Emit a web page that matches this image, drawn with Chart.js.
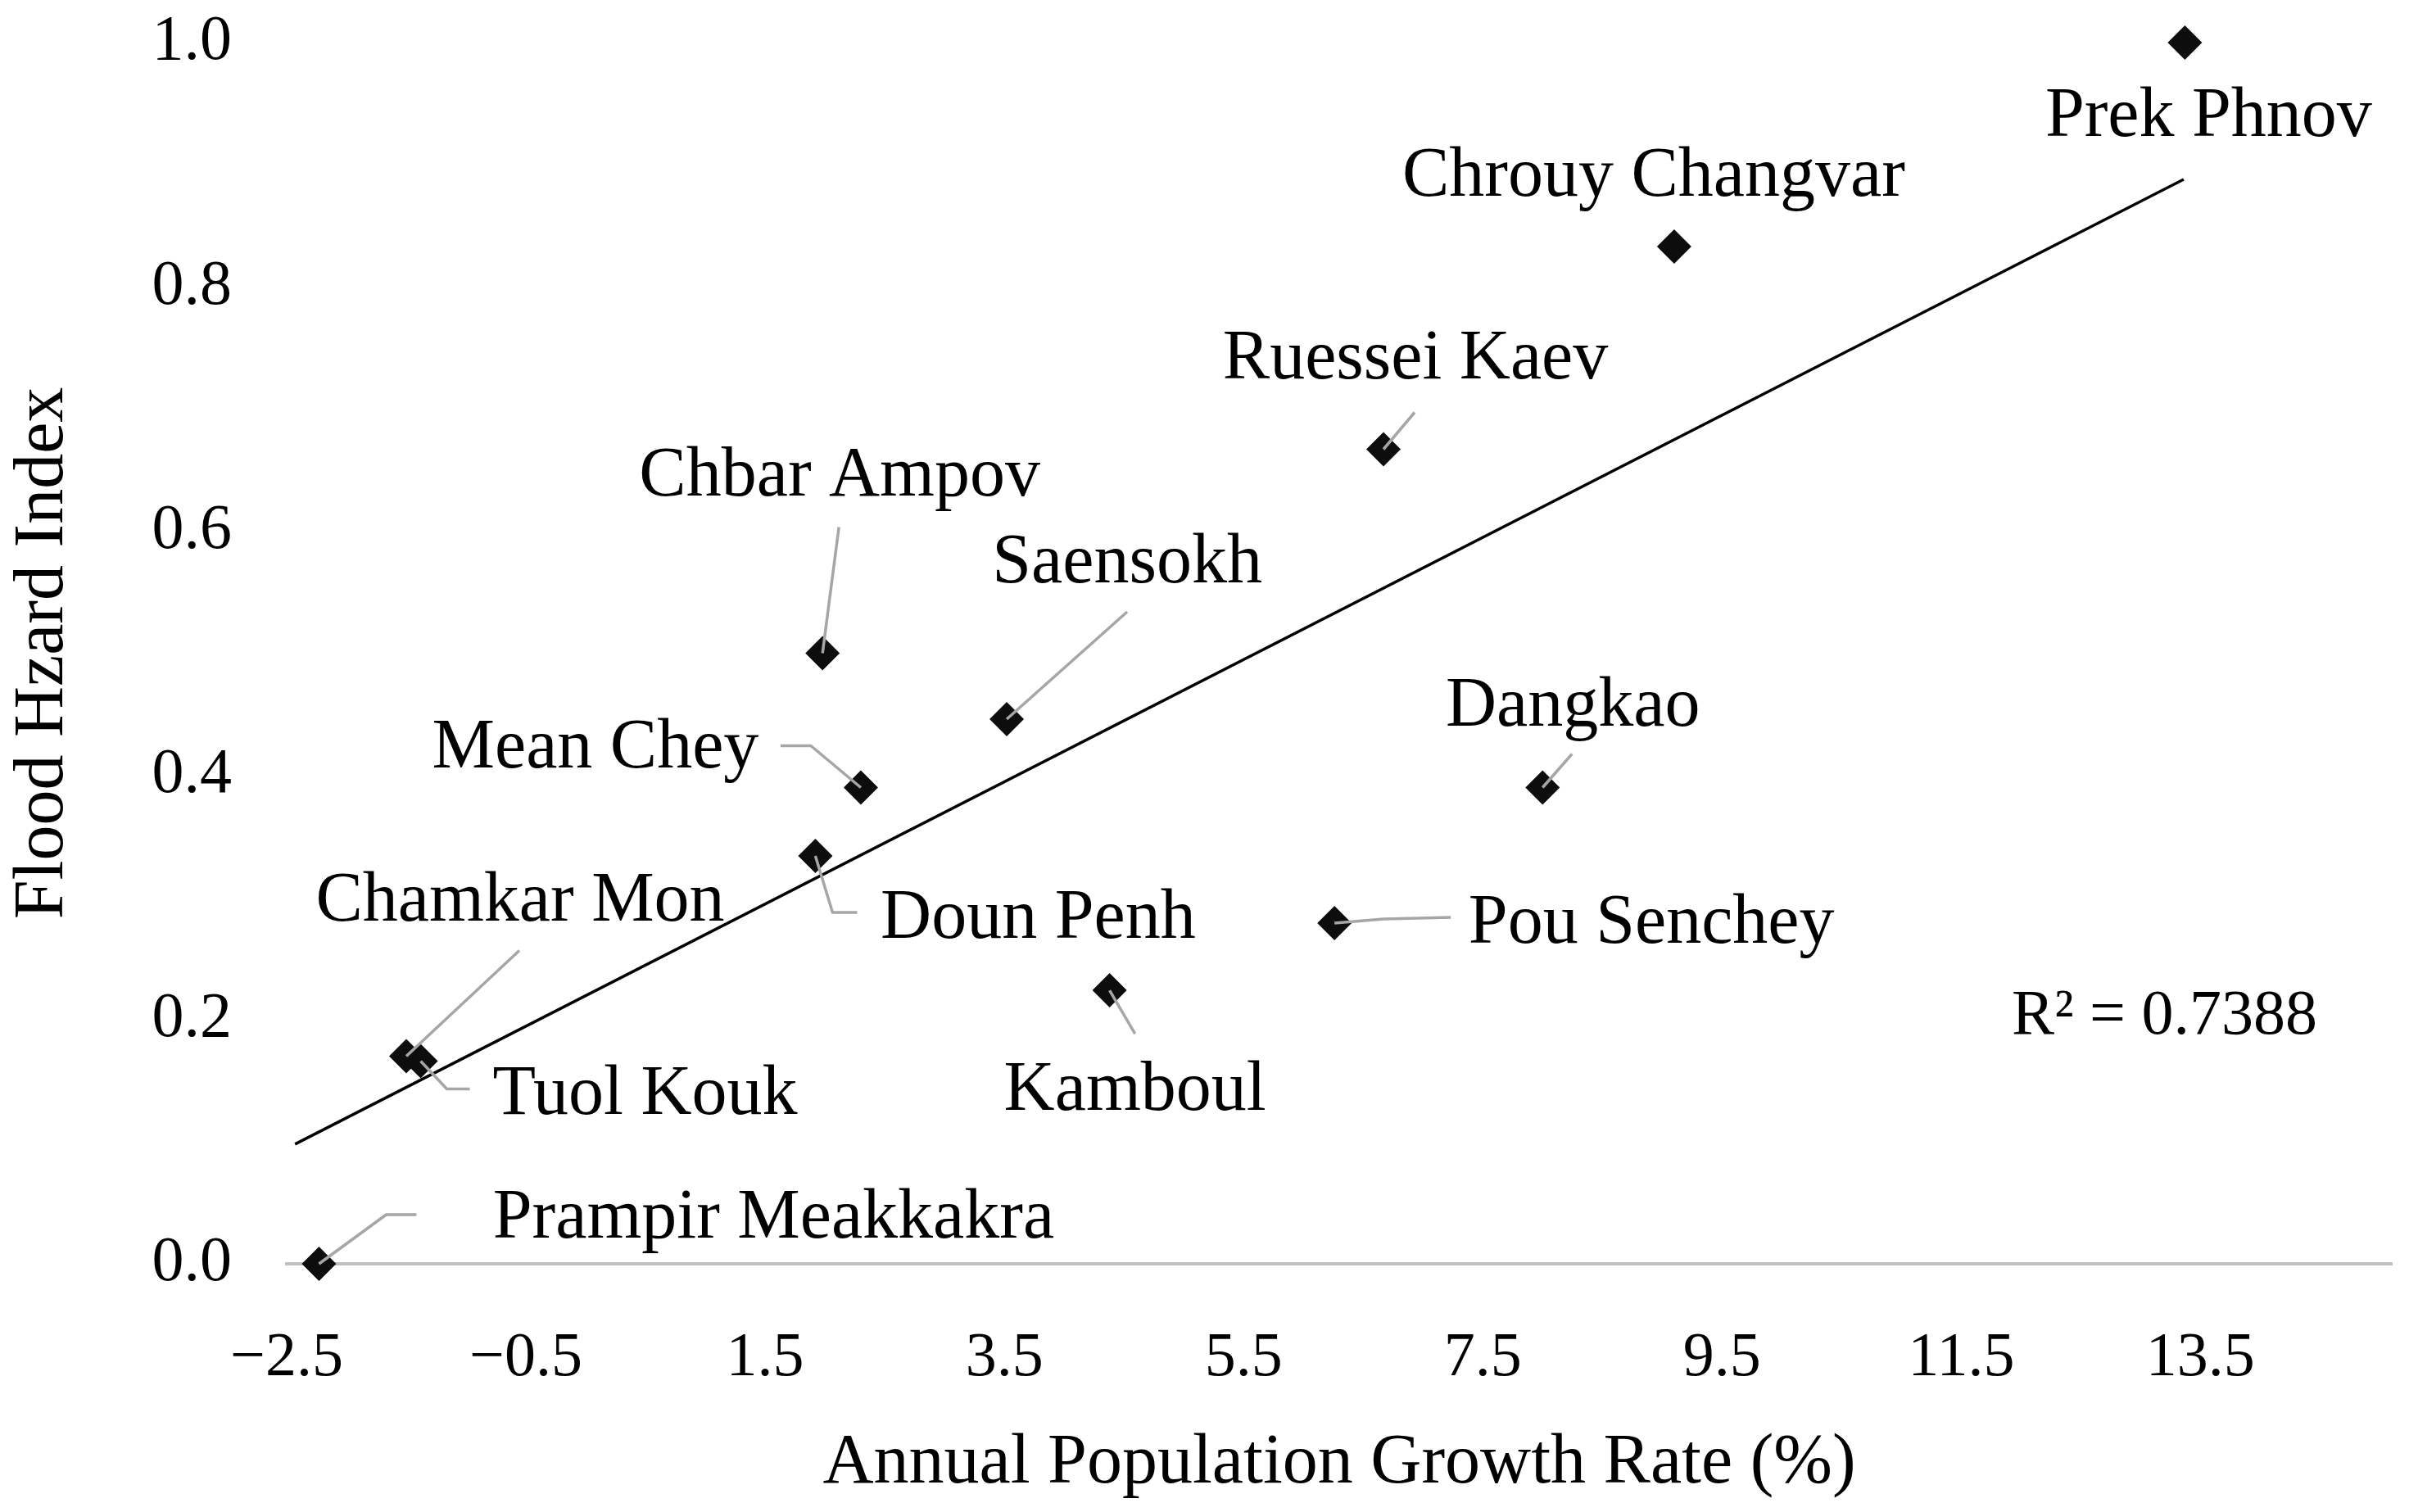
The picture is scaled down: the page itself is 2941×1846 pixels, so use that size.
<!DOCTYPE html>
<html>
<head>
<meta charset="utf-8">
<title>Flood Hazard Index vs Annual Population Growth Rate</title>
<script src="https://cdn.jsdelivr.net/npm/chart.js@4.4.1/dist/chart.umd.min.js"></script>
<style>
    html, body { margin: 0; padding: 0; background: #ffffff; }
    #wrap { width: 2941px; height: 1846px; }
</style>
</head>
<body>
<div id="wrap"><canvas id="floodChart" width="2941" height="1846"></canvas></div>
<script>
// Districts (khans) of Phnom Penh with growth rate (%) and flood hazard index
const districts = ["Prek Phnov", "Chrouy Changvar", "Ruessei Kaev", "Chbar Ampov", "Saensokh",
    "Mean Chey", "Doun Penh", "Dangkao", "Pou Senchey", "Kamboul",
    "Chamkar Mon", "Tuol Kouk", "Prampir Meakkakra"];
const growthRate = [13.37, 9.10, 6.67, 1.98, 3.52, 2.30, 1.92, 8.00, 6.26, 4.38, -1.50, -1.38, -2.23];
const hazardIndex = [1.000, 0.833, 0.667, 0.500, 0.446, 0.390, 0.334, 0.390, 0.279, 0.224, 0.170, 0.166, 0.000];

// linear trendline end points as drawn in the figure
const trendX = [-2.43, 13.36];
const trendY = [0.098, 0.888];
const rSquared = "0.7388";

const xTicks = [-2.5, -0.5, 1.5, 3.5, 5.5, 7.5, 9.5, 11.5, 13.5];
const yTicks = [0.0, 0.2, 0.4, 0.6, 0.8, 1.0];

const FONT = '"Liberation Serif", "Times New Roman", serif';

// label placement, pixel offsets from the marker: [dx, baseline dy], leader polyline
const labelPlaces = {
    "Prek Phnov":        { text: [29, 114] },
    "Chrouy Changvar":   { text: [-25, -62] },
    "Ruessei Kaev":      { text: [39, -87],   leader: [[38, -45]] },
    "Chbar Ampov":       { text: [21, -193],  leader: [[20, -154]] },
    "Saensokh":          { text: [147, -167], leader: [[147, -131]] },
    "Mean Chey":         { text: [-324, -25], leader: [[-61, -51], [-98, -51]] },
    "Doun Penh":         { text: [272, 100],  leader: [[21, 69], [51, 69]] },
    "Dangkao":           { text: [37, -76],   leader: [[36, -41]] },
    "Pou Senchey":       { text: [387, 24],   leader: [[60, -5], [142, -7]] },
    "Kamboul":           { text: [31, 146],   leader: [[31, 53]] },
    "Chamkar Mon":       { text: [139, -166], leader: [[138, -129]] },
    "Tuol Kouk":         { text: [274, 65],   leader: [[32, 34], [60, 34]] },
    "Prampir Meakkakra": { text: [555, -32],  leader: [[82, -60], [119, -60]] }
};

const labelPlugin = {
    id: 'districtLabels',
    afterDatasetsDraw(chart) {
        const ctx = chart.ctx;
        const pts = chart.getDatasetMeta(0).data;
        ctx.save();

        // gray leader lines
        ctx.strokeStyle = '#a6a6a6';
        ctx.lineWidth = 3.5;
        ctx.lineJoin = 'round';
        districts.forEach((name, i) => {
            const place = labelPlaces[name];
            if (!place.leader) return;
            const p = pts[i];
            ctx.beginPath();
            ctx.moveTo(p.x, p.y);
            place.leader.forEach(([dx, dy]) => ctx.lineTo(p.x + dx, p.y + dy));
            ctx.stroke();
        });

        // district names
        ctx.fillStyle = '#000000';
        ctx.font = '86px ' + FONT;
        ctx.textAlign = 'center';
        ctx.textBaseline = 'alphabetic';
        districts.forEach((name, i) => {
            const p = pts[i];
            const [dx, dy] = labelPlaces[name].text;
            ctx.fillText(name, p.x + dx, p.y + dy);
        });

        // R² of the trendline
        const xs = chart.scales.x, ys = chart.scales.y;
        ctx.font = '78px ' + FONT;
        ctx.textBaseline = 'middle';
        ctx.fillText('R\u00B2 = ' + rSquared, xs.getPixelForValue(13.2), ys.getPixelForValue(0.202));
        ctx.restore();
    }
};

new Chart(document.getElementById('floodChart'), {
    type: 'scatter',
    data: {
        datasets: [{
            label: 'Districts',
            data: growthRate.map((x, i) => ({ x: x, y: hazardIndex[i] })),
            pointStyle: 'rectRot',
            pointRadius: 21,
            pointHoverRadius: 21,
            backgroundColor: '#0d0d0d',
            borderWidth: 0,
            clip: false,
            order: 1
        }, {
            type: 'line',
            label: 'Linear trend',
            data: trendX.map((x, i) => ({ x: x, y: trendY[i] })),
            borderColor: '#000000',
            borderWidth: 3.5,
            pointRadius: 0,
            fill: false,
            clip: false,
            order: 2
        }]
    },
    options: {
        responsive: false,
        devicePixelRatio: 1,
        animation: false,
        layout: {
            padding: { top: 52, right: 8, left: 0, bottom: 0 }
        },
        plugins: {
            legend: { display: false },
            tooltip: { enabled: false }
        },
        scales: {
            x: {
                type: 'linear',
                min: -2.5,
                max: 15.1,
                afterBuildTicks: (scale) => { scale.ticks = xTicks.map(v => ({ value: v })); },
                afterFit: (scale) => {
                    scale.height = 303;
                    scale.paddingLeft = 0;
                    scale.paddingRight = 0;
                },
                grid: { display: false, drawTicks: false },
                border: { display: true, color: '#bfbfbf', width: 4 },
                ticks: {
                    padding: 70,
                    color: '#000000',
                    font: { family: FONT, size: 76 },
                    maxRotation: 0,
                    callback: (v) => v.toFixed(1).replace('-', '\u2212')
                },
                title: {
                    display: true,
                    text: 'Annual Population Growth Rate (%)',
                    color: '#000000',
                    font: { family: FONT, size: 86, lineHeight: 1.2 },
                    padding: { top: 0, bottom: 7 }
                }
            },
            y: {
                type: 'linear',
                min: 0,
                max: 1,
                afterBuildTicks: (scale) => { scale.ticks = yTicks.map(v => ({ value: v })); },
                afterFit: (scale) => {
                    scale.width = 350;
                    scale.paddingTop = 0;
                    scale.paddingBottom = 0;
                },
                grid: { display: false, drawTicks: false },
                border: { display: false },
                ticks: {
                    padding: 67,
                    color: '#000000',
                    font: { family: FONT, size: 78 },
                    callback: (v) => v.toFixed(1)
                },
                title: {
                    display: true,
                    text: 'Flood Hzard Index',
                    color: '#000000',
                    font: { family: FONT, size: 86, lineHeight: 1.2 },
                    padding: { top: 2, bottom: 0 }
                }
            }
        }
    },
    plugins: [labelPlugin]
});
</script>
</body>
</html>
